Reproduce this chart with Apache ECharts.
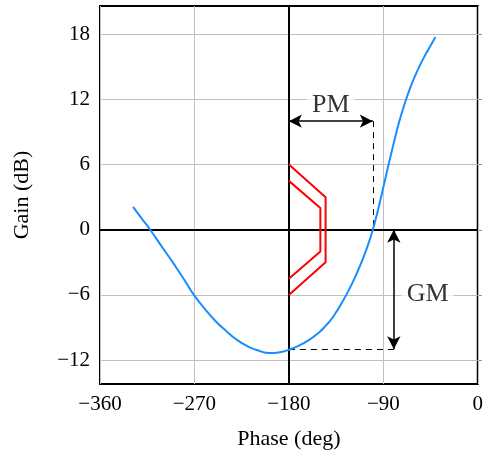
<!DOCTYPE html>
<html>
<head>
<meta charset="utf-8">
<script src="https://cdn.jsdelivr.net/npm/echarts@6/dist/echarts.min.js"></script>
<style>html,body{margin:0;padding:0;background:#fff}#c{width:486px;height:455px}</style>
</head>
<body>
<div id="c"></div>
<script>
// Nichols curve (phase in deg, gain in dB)
const phase = [-328.5, -320, -312.2, -300, -290, -280, -270.5, -260, -250, -240, -230, -220, -210, -198, -190, -180, -170, -160, -155, -150, -145, -140, -135, -130, -125, -120, -115, -110, -105, -100, -95, -90, -85, -80, -75, -70, -65, -60, -55, -50, -45, -40.3];
const gain  = [2.1, 1.0, 0, -1.7, -3.1, -4.55, -6.0, -7.3, -8.4, -9.3, -10.1, -10.7, -11.1, -11.35, -11.3, -11.05, -10.65, -10.1, -9.75, -9.35, -8.85, -8.3, -7.6, -6.8, -5.95, -5.0, -3.95, -2.8, -1.5, 0, 1.85, 3.9, 6.0, 8.0, 9.9, 11.5, 12.9, 14.1, 15.15, 16.1, 16.95, 17.75];

// Exclusion region (two nested polylines)
const outerPhase = [-180, -145, -145, -180];
const outerGain  = [6, 3, -3, -6];
const innerPhase = [-180, -150, -150, -180];
const innerGain  = [4.5, 2, -2, -4.5];

// Margins
const pmFrom = -180, pmTo = -100, pmLevel = 10;       // phase margin arrow
const gmPhase = -80, gmFrom = 0, gmTo = -11;          // gain margin arrow
const pmLabelPos = [-140, 11.5];
const gmLabelPos = [-47.7, -5.9];

// Axes
const xTicks = [-360, -270, -180, -90, 0];
const yTicks = [-12, -6, 0, 6, 12, 18];
const xMin = -360, xMax = 0, yMin = -14.2, yMax = 20.6;

const FONT = 'Liberation Serif';
const fmt = v => String(v).replace('-', '\u2212');

const zip = (a, b) => a.map((v, i) => [v, b[i]]);

const gridLines = [];
xTicks.forEach(v => gridLines.push({ xAxis: v }));
yTicks.forEach(v => gridLines.push({ yAxis: v }));

const chart = echarts.init(document.getElementById('c'), null, { renderer: 'canvas' });
chart.setOption({
  animation: false,
  grid: { left: 100, right: 5, top: 6, bottom: 70, show: true, borderColor: '#000', borderWidth: 2, backgroundColor: 'transparent' },
  xAxis: {
    type: 'value', min: xMin, max: xMax, interval: 90,
    name: 'Phase (deg)', nameLocation: 'middle', nameGap: 44,
    nameTextStyle: { fontFamily: FONT, fontSize: 22, color: '#000' },
    axisLine: { show: false },
    axisTick: { show: true, inside: true, length: 4, lineStyle: { color: '#888' } },
    splitLine: { show: false },
    axisLabel: { fontFamily: FONT, fontSize: 21, color: '#000', margin: 10, formatter: fmt }
  },
  yAxis: {
    type: 'value', min: yMin, max: yMax,
    name: 'Gain (dB)', nameLocation: 'middle', nameGap: 67, nameRotate: 90,
    nameTextStyle: { fontFamily: FONT, fontSize: 22, color: '#000' },
    axisLine: { show: false },
    axisTick: { show: true, inside: true, length: 4, customValues: yTicks, lineStyle: { color: '#888' } },
    splitLine: { show: false },
    axisLabel: { fontFamily: FONT, fontSize: 21, color: '#000', margin: 10, customValues: yTicks, formatter: fmt }
  },
  series: [
    {
      type: 'line', data: [], silent: true, z: 1,
      markLine: { silent: true, symbol: ['none', 'none'], label: { show: false },
        lineStyle: { color: '#bfbfbf', width: 1, type: 'solid' }, data: gridLines }
    },
    {
      type: 'line', data: [], silent: true, z: 2,
      markLine: { silent: true, symbol: ['none', 'none'], label: { show: false },
        lineStyle: { color: '#000', width: 2, type: 'solid' }, data: [{ xAxis: -180 }, { yAxis: 0 }] }
    },
    {
      type: 'line', data: [], silent: true, z: 3,
      markLine: { silent: true, symbol: ['none', 'none'], label: { show: false },
        lineStyle: { color: '#000', width: 1, type: [6, 5] },
        data: [
          [{ coord: [pmTo, pmLevel] }, { coord: [pmTo, 0] }],
          [{ coord: [pmFrom, gmTo] }, { coord: [gmPhase, gmTo] }]
        ] }
    },
    {
      type: 'line', data: [], silent: true, z: 4,
      markLine: { silent: true, symbol: ['arrow', 'arrow'], symbolSize: [10, 13], label: { show: false },
        lineStyle: { color: '#000', width: 1.5, type: 'solid' },
        data: [
          [{ coord: [pmFrom, pmLevel] }, { coord: [pmTo, pmLevel] }],
          [{ coord: [gmPhase, gmFrom] }, { coord: [gmPhase, gmTo] }]
        ] }
    },
    {
      type: 'line', data: zip(outerPhase, outerGain), showSymbol: false, z: 5,
      lineStyle: { color: '#ff0000', width: 2 }, itemStyle: { color: '#ff0000' }
    },
    {
      type: 'line', data: zip(innerPhase, innerGain), showSymbol: false, z: 5,
      lineStyle: { color: '#ff0000', width: 2 }, itemStyle: { color: '#ff0000' }
    },
    {
      type: 'line', data: zip(phase, gain), showSymbol: false, smooth: 0.5, z: 6,
      lineStyle: { color: '#1a8cff', width: 2 }, itemStyle: { color: '#1a8cff' }
    },
    {
      type: 'scatter', z: 7, symbolSize: 1, itemStyle: { color: 'rgba(0,0,0,0)' },
      data: [
        { value: pmLabelPos, name: 'PM' },
        { value: gmLabelPos, name: 'GM' }
      ],
      label: { show: true, position: 'inside', formatter: p => p.name,
        fontFamily: FONT, fontSize: 26, color: '#000', backgroundColor: '#fff', padding: [0, 5] }
    }
  ]
});
</script>
</body>
</html>
